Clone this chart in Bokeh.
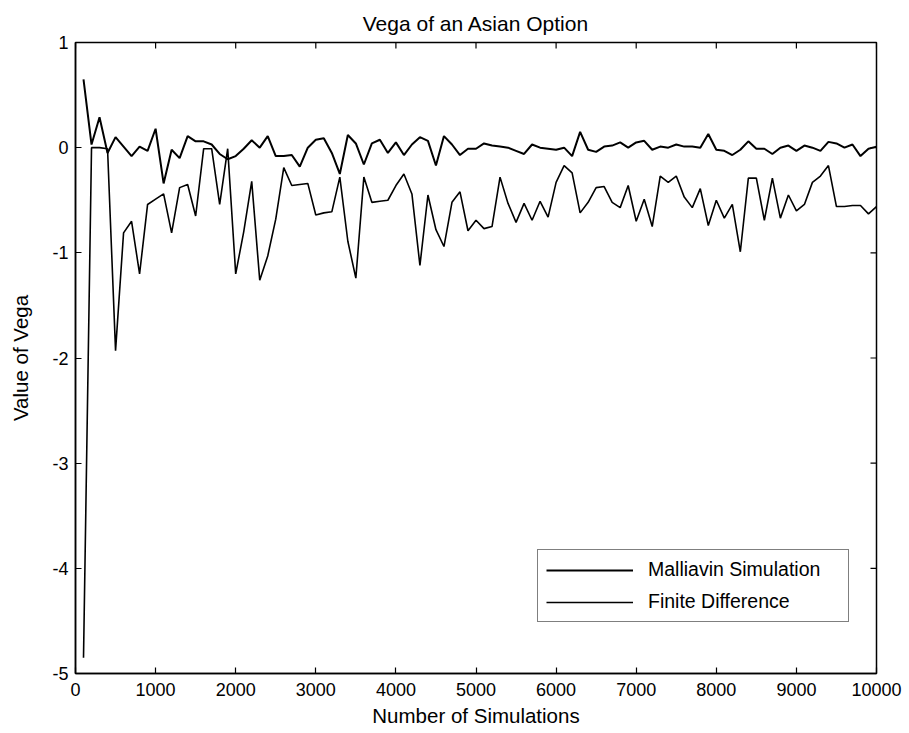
import math
from bokeh.plotting import figure
from bokeh.models import Range1d, FixedTicker, Legend, LegendItem
from bokeh.embed import file_html
from bokeh.resources import INLINE

# ---- data ----
simulations = [
    100, 200, 300, 400, 500, 600, 700, 800, 900, 1000,
    1100, 1200, 1300, 1400, 1500, 1600, 1700, 1800, 1900, 2000,
    2100, 2200, 2300, 2400, 2500, 2600, 2700, 2800, 2900, 3000,
    3100, 3200, 3300, 3400, 3500, 3600, 3700, 3800, 3900, 4000,
    4100, 4200, 4300, 4400, 4500, 4600, 4700, 4800, 4900, 5000,
    5100, 5200, 5300, 5400, 5500, 5600, 5700, 5800, 5900, 6000,
    6100, 6200, 6300, 6400, 6500, 6600, 6700, 6800, 6900, 7000,
    7100, 7200, 7300, 7400, 7500, 7600, 7700, 7800, 7900, 8000,
    8100, 8200, 8300, 8400, 8500, 8600, 8700, 8800, 8900, 9000,
    9100, 9200, 9300, 9400, 9500, 9600, 9700, 9800, 9900, 10000,
]

malliavin = [
    0.65, 0.03, 0.29, -0.05, 0.10, 0.01, -0.08, 0.01, -0.03, 0.18,
    -0.34, -0.02, -0.10, 0.11, 0.06, 0.06, 0.03, -0.06, -0.11, -0.08,
    -0.01, 0.07, 0.00, 0.11, -0.08, -0.08, -0.07, -0.18, 0.00, 0.075,
    0.09, -0.05, -0.25, 0.12, 0.04, -0.16, 0.04, 0.075, -0.05, 0.05,
    -0.07, 0.03, 0.10, 0.065, -0.17, 0.11, 0.03, -0.07, -0.01, -0.01,
    0.04, 0.02, 0.01, 0.00, -0.03, -0.06, 0.03, 0.00, -0.01, -0.02,
    0.00, -0.08, 0.15, -0.02, -0.04, 0.01, 0.02, 0.05, 0.00, 0.05,
    0.065, -0.02, 0.01, 0.00, 0.03, 0.01, 0.01, 0.00, 0.13, -0.02,
    -0.03, -0.07, -0.02, 0.06, -0.01, -0.01, -0.06, 0.00, 0.02, -0.03,
    0.02, 0.00, -0.03, 0.055, 0.04, 0.00, 0.03, -0.08, -0.01, 0.01,
]

finite_difference = [
    -4.85, 0.00, 0.00, -0.01, -1.93, -0.81, -0.70, -1.20, -0.54, -0.49,
    -0.44, -0.81, -0.38, -0.35, -0.65, -0.01, -0.01, -0.54, -0.01, -1.20,
    -0.80, -0.32, -1.26, -1.03, -0.68, -0.19, -0.36, -0.35, -0.34, -0.64,
    -0.62, -0.61, -0.28, -0.89, -1.24, -0.28, -0.52, -0.51, -0.50, -0.36,
    -0.25, -0.44, -1.12, -0.45, -0.78, -0.94, -0.52, -0.42, -0.79, -0.69,
    -0.77, -0.75, -0.28, -0.53, -0.71, -0.53, -0.69, -0.51, -0.66, -0.33,
    -0.17, -0.24, -0.62, -0.52, -0.38, -0.37, -0.52, -0.57, -0.36, -0.70,
    -0.49, -0.75, -0.27, -0.33, -0.27, -0.47, -0.57, -0.39, -0.74, -0.50,
    -0.67, -0.54, -0.99, -0.29, -0.29, -0.69, -0.29, -0.67, -0.45, -0.60,
    -0.54, -0.33, -0.27, -0.17, -0.56, -0.56, -0.55, -0.55, -0.63, -0.56,
]

x_ticks = [0, 1000, 2000, 3000, 4000, 5000, 6000, 7000, 8000, 9000, 10000]
x_tick_labels = ["0", "1000", "2000", "3000", "4000", "5000", "6000", "7000", "8000", "9000", "10000"]
y_ticks = [-5, -4, -3, -2, -1, 0, 1]
y_tick_labels = ["-5", "-4", "-3", "-2", "-1", "0", "1"]

title_text = "Vega of an Asian Option"
x_label = "Number of Simulations"
y_label = "Value of Vega"
series_names = ["Malliavin Simulation", "Finite Difference"]

FONT = "Liberation Sans"

p = figure(
    width=909, height=733,
    output_backend="svg", toolbar_location=None,
    x_range=Range1d(x_ticks[0], x_ticks[-1]), y_range=Range1d(y_ticks[0], y_ticks[-1]),
    min_border_left=75, min_border_right=33, min_border_top=42, min_border_bottom=60,
    title=title_text,
)
p.background_fill_color = "white"
p.border_fill_color = "white"
p.outline_line_color = "black"
p.outline_line_width = 1.5
p.xgrid.visible = False
p.ygrid.visible = False

p.title.align = "center"
p.title.text_font = FONT
p.title.text_font_size = "21px"
p.title.text_font_style = "normal"
p.title.text_color = "black"
p.title.standoff = 16

def style_axis(ax, ticks, labels):
    ax.ticker = FixedTicker(ticks=ticks)
    ax.major_label_overrides = {t: l for t, l in zip(ticks, labels)}
    ax.major_tick_in = 6
    ax.major_tick_out = 0
    ax.minor_tick_in = 0
    ax.minor_tick_out = 0
    ax.axis_line_color = "black"
    ax.axis_line_width = 1.5
    ax.major_tick_line_color = "black"
    ax.major_tick_line_width = 1.2
    ax.major_label_text_font = FONT
    ax.major_label_text_color = "black"
    ax.major_label_text_font_size = "18px"
    ax.axis_label_text_font = FONT
    ax.axis_label_text_font_size = "20.5px"
    ax.axis_label_text_font_style = "normal"
    ax.axis_label_text_color = "black"

xa = p.xaxis[0]
ya = p.yaxis[0]
style_axis(xa, x_ticks, x_tick_labels)
style_axis(ya, y_ticks, y_tick_labels)
xa.major_label_standoff = 9
ya.major_label_standoff = 7
xa.axis_label = x_label
ya.axis_label = y_label
xa.axis_label_standoff = 5
ya.axis_label_standoff = 17

# inward tick marks on the top and right edges of the box (MATLAB "box on")
p.ray(x=x_ticks, y=[y_ticks[-1]] * len(x_ticks), length=6, length_units="screen",
      angle=-math.pi / 2, line_color="black", line_width=1.2)
p.ray(x=[x_ticks[-1]] * len(y_ticks), y=y_ticks, length=6, length_units="screen",
      angle=math.pi, line_color="black", line_width=1.2)

r_m = p.line(simulations, malliavin, line_color="black", line_width=2.0)
r_f = p.line(simulations, finite_difference, line_color="black", line_width=1.6)

legend = Legend(
    items=[LegendItem(label=series_names[0], renderers=[r_m]),
           LegendItem(label=series_names[1], renderers=[r_f])],
    location=(462, 51),
    orientation="vertical",
    glyph_width=87, glyph_height=22, label_height=22, label_width=192,
    label_standoff=15, spacing=9, padding=8, margin=0,
    label_text_font=FONT, label_text_font_size="19.5px", label_text_color="black",
    border_line_color="black", border_line_width=1.2,
    background_fill_color="white", background_fill_alpha=1.0,
)
p.add_layout(legend)

open("out.html", "w").write(file_html(p, INLINE))
